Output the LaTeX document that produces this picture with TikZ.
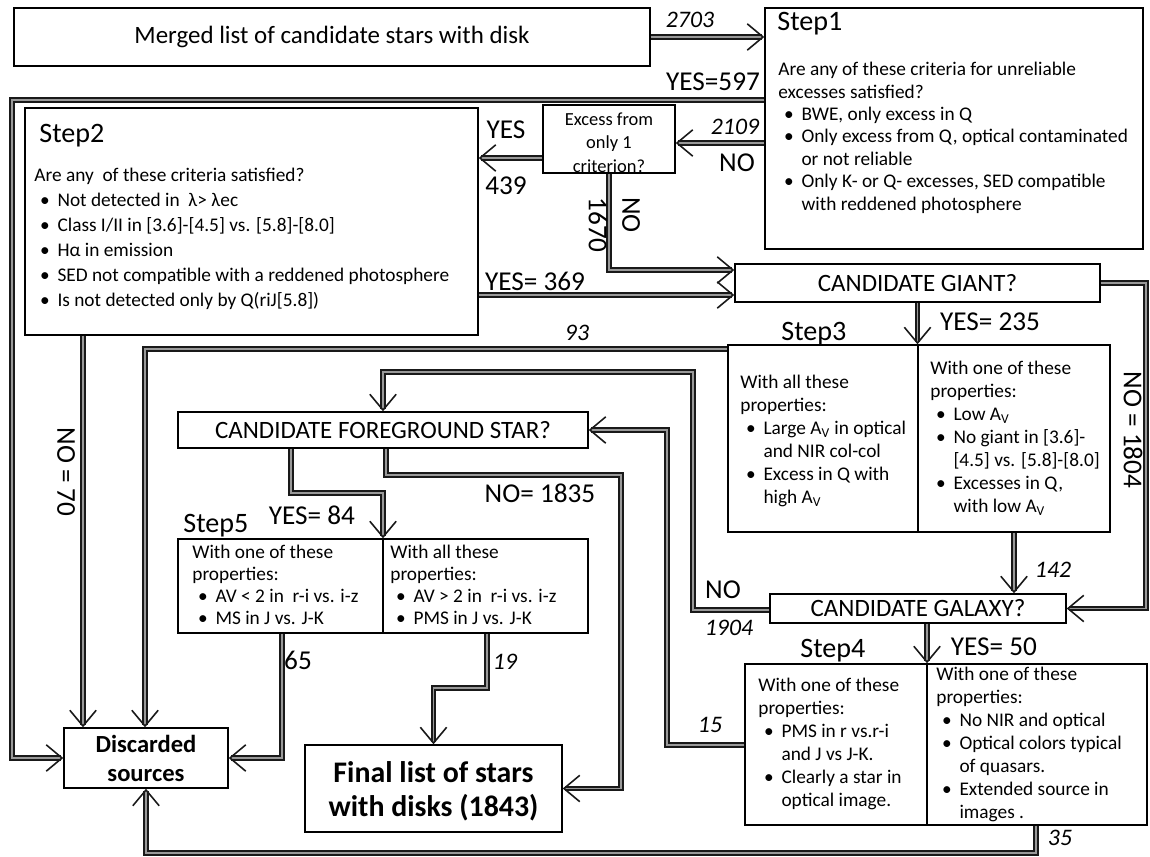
\documentclass[tikz,border=0pt]{standalone}
\usepackage{fontspec}
\setmainfont{Carlito}
\usetikzlibrary{arrows.meta,fit}
\newcommand{\bl}{\makebox[1.2em][l]{\hspace{0.3em}\textbullet}}
\newcommand{\ind}{\hspace*{1.2em}}

\begin{document}
\begin{tikzpicture}[x=0.02cm, y=-0.02cm]
  \tikzset{
    box/.style={draw, line width=0.8pt, inner sep=0pt},
    flow/.style={line width=0.9pt, draw=black!90, double=black!40, double distance=1.1pt,
      -{Straight Barb[length=9pt,width=15pt]}},
    lbl/.style={font=\fontsize{15.5}{17}\selectfont, inner sep=0pt},
    num/.style={font=\fontsize{13.5}{15}\selectfont\itshape, inner sep=0pt},
    steplbl/.style={font=\fontsize{16}{18}\selectfont, inner sep=0pt, anchor=base west},
    crit/.style={font=\fontsize{11}{#1}\selectfont, align=left, inner sep=0pt, anchor=north west,
      execute at begin node=\rule{0pt}{9pt}},
    big/.style={font=\fontsize{14.2}{16}\selectfont, inner sep=0pt, align=center}
  }
  \useasboundingbox (0,0) rectangle (1150,856);

  % boxes
  \node[box, fit={(14,8) (650,66)}] (merged) {};
  \node[box, fit={(765,8) (1143,249)}] (step1) {};
  \node[box, fit={(543,105) (675,173)}] (excess) {};
  \node[box, fit={(25,108) (478,335)}] (step2) {};
  \node[box, fit={(735,264) (1100,302)}] (giant) {};
  \node[box, fit={(728,345) (1110,532)}] (step3) {};
  \node[box, fit={(770,594) (1066,623)}] (galaxy) {};
  \node[box, fit={(745,664) (1147,825)}] (step4) {};
  \node[box, fit={(178,412) (588,448)}] (fgstar) {};
  \node[box, fit={(178,539) (588,633)}] (step5) {};
  \node[box, fit={(64,728) (228,788)}] (discard) {};
  \node[box, fit={(305,745) (562,832)}] (final) {};
  \draw[line width=0.8pt] (step3.north -| 918,0) -- (step3.south -| 918,0);
  \draw[line width=0.8pt] (step4.north -| 927,0) -- (step4.south -| 927,0);
  \draw[line width=0.8pt] (step5.north -| 383,0) -- (step5.south -| 383,0);

  % box texts
  \node[big] (mergedtxt) at (merged.center) {Merged list of candidate stars with disk};
  \node[big, font=\fontsize{10.5}{13.4}\selectfont] (excesstxt) at ([yshift=-2pt]excess.center) {Excess from\\only 1\\criterion?};
  \node[big] (gianttxt) at (giant.center) {CANDIDATE GIANT?};
  \node[big] (galaxytxt) at (galaxy.center) {CANDIDATE GALAXY?};
  \node[big] (fgtxt) at (fgstar.center) {CANDIDATE FOREGROUND STAR?};
  \node[big, font=\fontsize{14}{16.5}\selectfont\bfseries] (discardtxt) at (discard.center) {Discarded\\sources};
  \node[big, font=\fontsize{17}{19}\selectfont\bfseries] (finaltxt) at ([yshift=-1.5pt]final.center) {Final list of stars\\with disks (1843)};

  % step texts
  \node[steplbl] (s1lbl) at (777,30) {Step1};
  \node[crit=12.75] (s1txt) at (778,62) {Are any of these criteria for unreliable\\excesses satisfied?\\\bl BWE, only excess in Q\\\bl Only excess from Q, optical contaminated\\\ind or not reliable\\\bl Only K- or Q- excesses, SED compatible\\\ind with reddened photosphere};
  \node[steplbl] (s2lbl) at (39,142) {Step2};
  \node[crit=14.2] (s2txt) at (34,168) {Are any \ of these criteria satisfied?\\\bl Not detected in \ λ> λec\\\bl Class I/II in [3.6]-[4.5] vs. [5.8]-[8.0]\\\bl Hα in emission\\\bl SED not compatible with a reddened photosphere\\\bl Is not detected only by Q(riJ[5.8])};
  \node[steplbl] (s3lbl) at (781,340) {Step3};
  \node[crit=13.1] (s3a) at (740,375) {With all these\\properties:\\\bl Large A\textsubscript{V} in optical\\\ind and NIR col-col\\\bl Excess in Q with\\\ind high A\textsubscript{V}};
  \node[crit=13.1] (s3b) at (930,361) {With one of these\\properties:\\\bl Low A\textsubscript{V}\\\bl No giant in [3.6]-\\\ind [4.5] vs. [5.8]-[8.0]\\\bl Excesses in Q,\\\ind with low A\textsubscript{V}};
  \node[steplbl] (s4lbl) at (800,657) {Step4};
  \node[crit=13.1] (s4a) at (758,678) {With one of these\\properties:\\\bl PMS in r vs.r-i\\\ind and J vs J-K.\\\bl Clearly a star in\\\ind optical image.};
  \node[crit=13.1] (s4b) at (936,667) {With one of these\\properties:\\\bl No NIR and optical\\\bl Optical colors typical\\\ind of quasars.\\\bl Extended source in\\\ind images .};
  \node[steplbl] (s5lbl) at (183,532) {Step5};
  \node[crit=12.4] (s5a) at (192,545) {With one of these\\properties:\\\bl AV < 2 in \ r-i vs. i-z\\\bl MS in J vs. J-K};
  \node[crit=12.4] (s5b) at (390,545) {With all these\\properties:\\\bl AV > 2 in \ r-i vs. i-z\\\bl PMS in J vs. J-K};

  % connectors
  \draw[flow] (merged.east) -- (merged.east -| step1.west);
  \draw[flow] (step1.west |- 0,100) -- (12,100) |- (discard.west);
  \draw[flow] (step1.west |- 0,143) -- (excess.east |- 0,143);
  \draw[flow] (excess.west |- 0,158) -- (step2.east |- 0,158);
  \draw[flow] (excess.south -| 609,0) |- (giant.west |- 0,270);
  \draw[flow] (step2.east |- 0,295) -- (giant.west |- 0,295);
  \draw[flow] (step2.south -| 83,0) -- (discard.north -| 83,0);
  \draw[flow] (giant.east) -- (1146,283) |- (galaxy.east);
  \draw[flow] (giant.south) -- (step3.north -| giant.south);
  \draw[flow] (step3.west |- 0,349) -| (discard.north -| 145,0);
  \draw[flow] (step3.south -| 1014,0) -- (galaxy.north -| 1014,0);
  \draw[flow] (galaxy.west |- 0,610) -| (693,372) -| (fgstar.north -| 383,0);
  \draw[flow] (galaxy.south -| 927,0) -- (step4.north -| 927,0);
  \draw[flow] (step4.west |- 0,745) -| (667,430) -- (fgstar.east |- 0,430);
  \draw[flow] (step4.south -| 1036,0) -- (1036,853) -| (discard.south);
  \draw[flow] (fgstar.south -| 291,0) |- (383,493) -- (step5.north -| 383,0);
  \draw[flow] (fgstar.south -| 386,0) |- (621,475) |- (final.east);
  \draw[flow] (step5.south -| 282,0) |- (discard.east);
  \draw[flow] (step5.south -| 487,0) |- (435,688) -| (final.north);

  % labels
  \node[num] (n2703) at (690,20) {2703};
  \node[lbl] (y597) at (713,82) {YES=597};
  \node[num] (n2109) at (735,127) {2109};
  \node[lbl] (no1) at (737,163) {NO};
  \node[lbl] (yes1) at (506,130) {YES};
  \node[lbl] (n439) at (506,186) {439};
  \node[lbl, rotate=-90] (no2) at (631,215) {NO};
  \node[lbl, rotate=-90] (n1670) at (598,225) {1670};
  \node[lbl] (y369) at (535,281) {YES= 369};
  \node[lbl, rotate=-90] (no70) at (66,472) {NO = 70};
  \node[lbl, rotate=-90] (no1804) at (1133,430) {NO = 1804};
  \node[lbl] (y235) at (990,322) {YES= 235};
  \node[num] (n93) at (577,333) {93};
  \node[num] (n142) at (1053,570) {142};
  \node[lbl] (no3) at (723,590) {NO};
  \node[num] (n1904) at (729,628) {1904};
  \node[lbl] (y50) at (994,647) {YES= 50};
  \node[num] (n15) at (710,725) {15};
  \node[num] (n35) at (1060,838) {35};
  \node[lbl] (y84) at (312,515) {YES= 84};
  \node[lbl] (no1835) at (540,493) {NO= 1835};
  \node[lbl] (n65) at (298,660) {65};
  \node[num] (n19) at (505,662) {19};
\end{tikzpicture}
\end{document}
